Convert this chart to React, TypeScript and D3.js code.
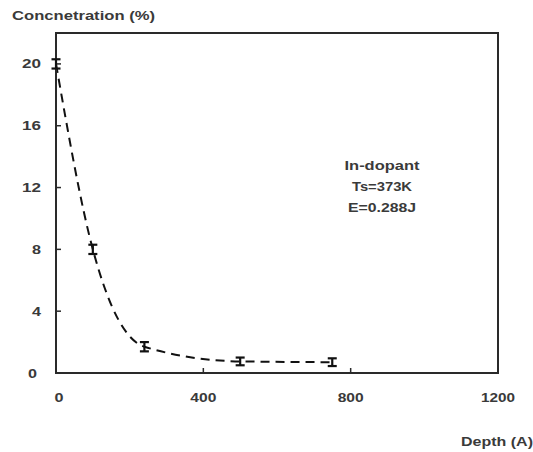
import React from "react";
import * as d3 from "d3";

// Concentration profile: depth (Å) vs In-dopant concentration (%)
const depth = [0, 100, 240, 500, 750];
const concentration = [20, 8, 1.7, 0.75, 0.7];
const errorHalf = [0.3, 0.3, 0.3, 0.25, 0.25];
const xTicks = [0, 400, 800, 1200];
const yTicks = [0, 4, 8, 12, 16, 20];
const annotation = ["In-dopant", "Ts=373K", "E=0.288J"];

const W = 533;
const H = 452;
const plot = { left: 56, right: 498, top: 33, bottom: 373 };
const font = "'Liberation Sans', Arial, sans-serif";
const ink = "#2a2a2a";

export default function App() {
  const x = d3.scaleLinear().domain([0, 1200]).range([plot.left, plot.right]);
  const y = d3.scaleLinear().domain([0, 22]).range([plot.bottom, plot.top]);

  const pts: [number, number][] = depth.map((d, i) => [d, concentration[i]]);
  const line = d3
    .line<[number, number]>()
    .x((d) => x(d[0]))
    .y((d) => y(d[1]))
    .curve(d3.curveMonotoneX);

  const textStyle = { fontFamily: font, fontWeight: 700, fill: "#3a3a3a" } as const;

  return (
    <svg
      width={W}
      height={H}
      style={{ position: "absolute", left: 0, top: 0, background: "#fff" }}
    >
      {/* title of the y axis */}
      <text x={12} y={20} fontSize={13} textLength={143} lengthAdjust="spacingAndGlyphs" {...textStyle}>
        Concnetration (%)
      </text>

      {/* fit curve */}
      <path
        d={line(pts) || ""}
        fill="none"
        stroke="#111"
        strokeWidth={2}
        strokeDasharray="9 6"
      />

      {/* frame */}
      <rect
        x={plot.left}
        y={plot.top}
        width={plot.right - plot.left}
        height={plot.bottom - plot.top}
        fill="none"
        stroke={ink}
        strokeWidth={2}
      />

      {/* y ticks */}
      {yTicks.map((t) => (
        <g key={"y" + t}>
          <line x1={plot.left} x2={plot.left + 5} y1={y(t)} y2={y(t)} stroke={ink} strokeWidth={1.5} />
          <text
            x={t === 0 ? 37 : 41}
            y={y(t) + 4.5}
            textAnchor="end"
            fontSize={12}
            textLength={t >= 10 ? 19 : 9}
            lengthAdjust="spacingAndGlyphs"
            {...textStyle}
          >
            {t}
          </text>
        </g>
      ))}

      {/* x ticks */}
      {xTicks.map((t) => (
        <g key={"x" + t}>
          <line x1={x(t)} x2={x(t)} y1={plot.bottom} y2={plot.bottom - 5} stroke={ink} strokeWidth={1.5} />
          <text
            x={x(t) + (t === 0 ? 3 : 0)}
            y={402}
            textAnchor="middle"
            fontSize={12}
            textLength={t >= 1000 ? 34 : t >= 100 ? 26 : 9}
            lengthAdjust="spacingAndGlyphs"
            {...textStyle}
          >
            {t}
          </text>
        </g>
      ))}

      {/* data points with error bars */}
      {pts.map((p, i) => {
        const cx = x(p[0]);
        const y1 = y(p[1] + errorHalf[i]);
        const y2 = y(p[1] - errorHalf[i]);
        return (
          <g key={"p" + i} stroke="#111" strokeWidth={2.2}>
            <line x1={cx} x2={cx} y1={y1} y2={y2} />
            <line x1={cx - 4.5} x2={cx + 4.5} y1={y1} y2={y1} />
            <line x1={cx - 4.5} x2={cx + 4.5} y1={y2} y2={y2} />
          </g>
        );
      })}

      {/* annotation */}
      {annotation.map((s, i) => (
        <text
          key={s}
          x={382}
          y={170 + i * 21}
          textAnchor="middle"
          fontSize={13}
          textLength={[75, 60, 68][i]}
          lengthAdjust="spacingAndGlyphs"
          {...textStyle}
        >
          {s}
        </text>
      ))}

      {/* x axis title */}
      <text x={461} y={446} fontSize={13} textLength={72} lengthAdjust="spacingAndGlyphs" {...textStyle}>
        Depth (A)
      </text>
    </svg>
  );
}
